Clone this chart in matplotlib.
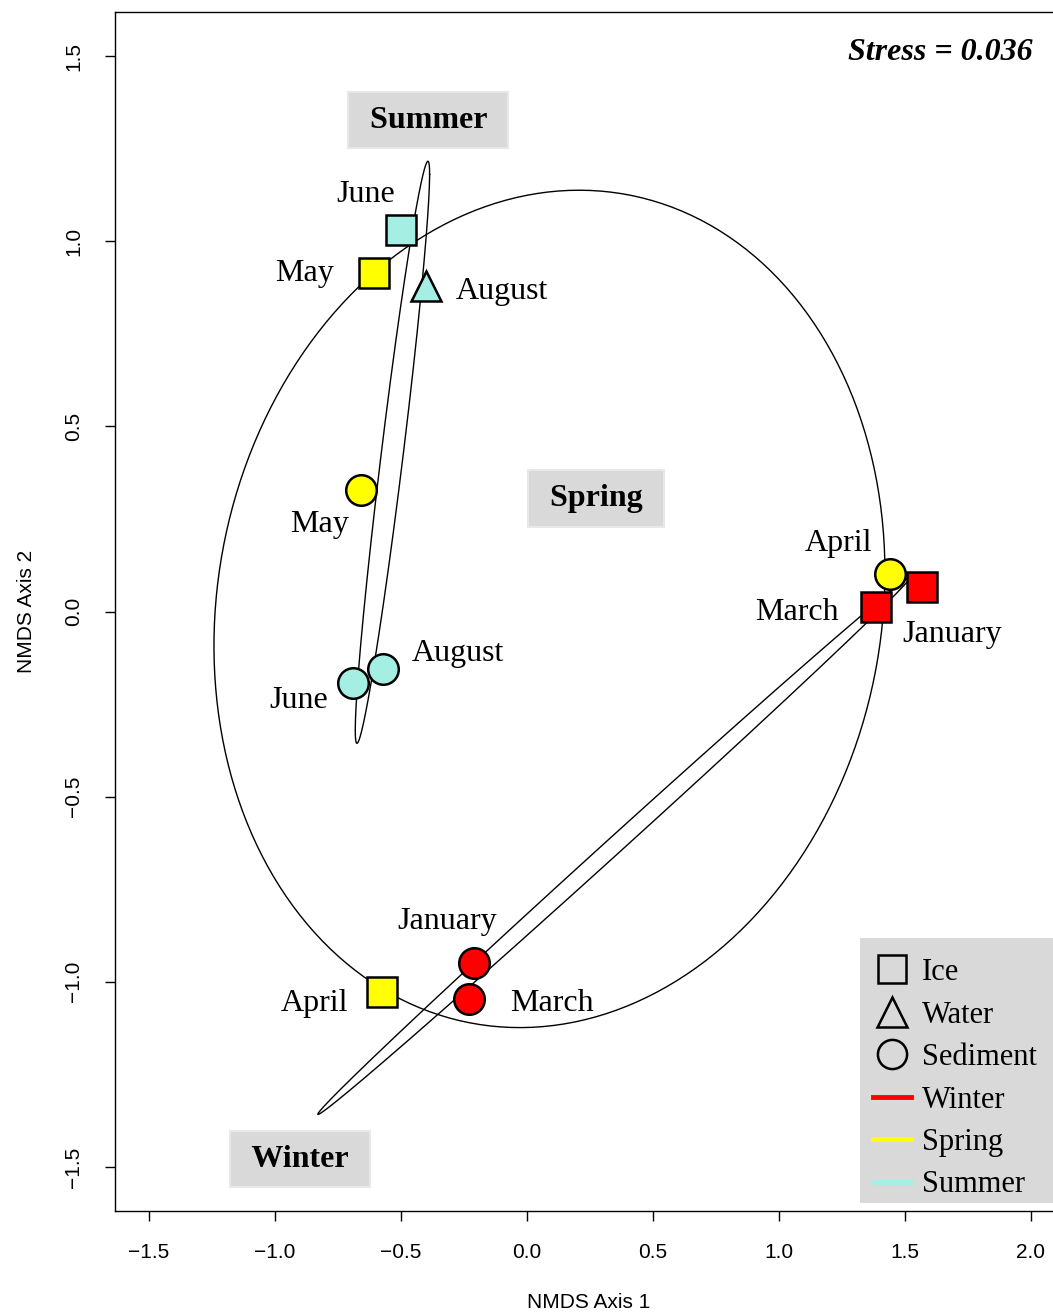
import numpy as np
import matplotlib.pyplot as plt
from matplotlib.lines import Line2D
from matplotlib.patches import Rectangle

# NMDS scores
months = ['June', 'May', 'August', 'May', 'June', 'August',
          'April', 'March', 'January', 'January', 'March', 'April']
habitat = ['Ice', 'Ice', 'Water', 'Sediment', 'Sediment', 'Sediment',
           'Sediment', 'Ice', 'Ice', 'Sediment', 'Sediment', 'Ice']
season = ['Summer', 'Spring', 'Summer', 'Spring', 'Summer', 'Summer',
          'Spring', 'Winter', 'Winter', 'Winter', 'Winter', 'Spring']
nmds1 = [-0.50, -0.607, -0.40, -0.659, -0.69, -0.571,
         1.44, 1.385, 1.567, -0.21, -0.23, -0.575]
nmds2 = [1.03, 0.914, 0.88, 0.329, -0.194, -0.156,
         0.102, 0.013, 0.065, -0.949, -1.046, -1.027]

# season ellipses: centre and shape matrix
ell_season = ['Summer', 'Spring', 'Winter']
ell_center = [(-0.534, 0.430), (0.089, 0.007), (0.345, -0.633)]
ell_shape = [[[0.02176, 0.1107], [0.1107, 0.6178]],
             [[1.7724, 0.133], [0.133, 1.2785]],
             [[1.3811, 0.8515], [0.8515, 0.5259]]]

season_labels = ['Summer', 'Spring', 'Winter']
season_label_xy = [(-0.393, 1.332), (0.274, 0.31), (-0.901, -1.474)]
stress = 0.036

season_col = {'Winter': '#FF0000', 'Spring': '#FFFF00', 'Summer': '#A5EEE3'}
hab_marker = {'Ice': 's', 'Water': '^', 'Sediment': 'o'}
hab_size = {'Ice': 21, 'Water': 22, 'Sediment': 22}

# label offsets in pixels (dx, dy)
lab_off = [(-35, 36), (-70, 0), (76, -6), (-41, -35), (-54, -17), (75, 16),
           (-51, 30), (-79, -6), (30, -47), (-27, 41), (83, -5), (-68, -12)]

serif = 'Liberation Serif'
sans = 'Liberation Sans'

fig = plt.figure(figsize=(10.53, 13.13), dpi=100)
W, H = 1053, 1313
ax = fig.add_axes([115 / W, 1 - 1211 / H, (1063 - 115) / W, (1211 - 12) / H])
ax.set_xlim(-1.635, 2.127)
ax.set_ylim(-1.619, 1.619)

t = np.linspace(0, 2 * np.pi, 400)
circ = np.vstack([np.cos(t), np.sin(t)])
for c, S in zip(ell_center, ell_shape):
    L = np.linalg.cholesky(np.array(S))
    pts = L @ circ
    ax.plot(c[0] + pts[0], c[1] + pts[1], color='black', lw=1.0, zorder=2)

for i in range(len(months)):
    ax.plot(nmds1[i], nmds2[i], marker=hab_marker[habitat[i]],
            ms=hab_size[habitat[i]], mfc=season_col[season[i]], mec='black',
            mew=1.8, ls='none', zorder=3)
    ax.annotate(months[i], (nmds1[i], nmds2[i]), xytext=lab_off[i],
                textcoords='offset pixels', ha='center', va='center',
                fontsize=23, family=serif, zorder=4)

for lab, (x, y) in zip(season_labels, season_label_xy):
    ax.text(x, y - 0.005, ' ' + lab + ' ', ha='center', va='center', fontsize=23,
            family=serif, fontweight='bold',
            bbox=dict(boxstyle='square,pad=0.43', fc='#D9D9D9', ec='#E8E8E8', lw=1.5))

fig.text(1033 / W, 1 - 52 / H, 'Stress = %.3f' % stress, ha='right', va='center',
         fontsize=23, family=serif, fontweight='bold', style='italic')

# legend background
fig.patches.append(Rectangle((860 / W, 1 - 1203 / H), (W - 860) / W, 265 / H,
                             transform=fig.transFigure, fc='#D9D9D9', ec='none', zorder=5))
handles = [Line2D([], [], marker='s', ls='none', mfc='none', mec='black', ms=20, mew=1.8),
           Line2D([], [], marker='^', ls='none', mfc='none', mec='black', ms=21, mew=1.8),
           Line2D([], [], marker='o', ls='none', mfc='none', mec='black', ms=21, mew=1.8),
           Line2D([], [], color=season_col['Winter'], lw=3.5),
           Line2D([], [], color=season_col['Spring'], lw=3.5),
           Line2D([], [], color=season_col['Summer'], lw=3.5)]
leg = fig.legend(handles, ['Ice', 'Water', 'Sediment', 'Winter', 'Spring', 'Summer'],
                 loc='upper left', bbox_to_anchor=(864 / W, 1 - 949 / H),
                 borderaxespad=0, prop={'family': serif, 'size': 22}, handlelength=1.25,
                 handletextpad=0.35, labelspacing=0.44, borderpad=0.3, frameon=False)
leg.set_zorder(6)

ax.set_xticks([-1.5, -1.0, -0.5, 0.0, 0.5, 1.0, 1.5, 2.0])
ax.set_yticks([-1.5, -1.0, -0.5, 0.0, 0.5, 1.0, 1.5])
ax.set_xticklabels(['\u22121.5', '\u22121.0', '\u22120.5', '0.0', '0.5', '1.0', '1.5', '2.0'])
ax.set_yticklabels(['\u22121.5', '\u22121.0', '\u22120.5', '0.0', '0.5', '1.0', '1.5'],
                   rotation=90, va='center')
ax.tick_params(length=7, width=1, pad=16, labelsize=15)
for lab in ax.get_xticklabels() + ax.get_yticklabels():
    lab.set_family(sans)
for sp in ax.spines.values():
    sp.set_linewidth(1.0)

fig.text(589 / W, 1 - 1302 / H, 'NMDS Axis 1', ha='center', va='center',
         fontsize=15, family=sans)
fig.text(27 / W, 1 - 611 / H, 'NMDS Axis 2', ha='center', va='center',
         fontsize=15, family=sans, rotation=90)

fig.savefig('out.png', dpi=100)
